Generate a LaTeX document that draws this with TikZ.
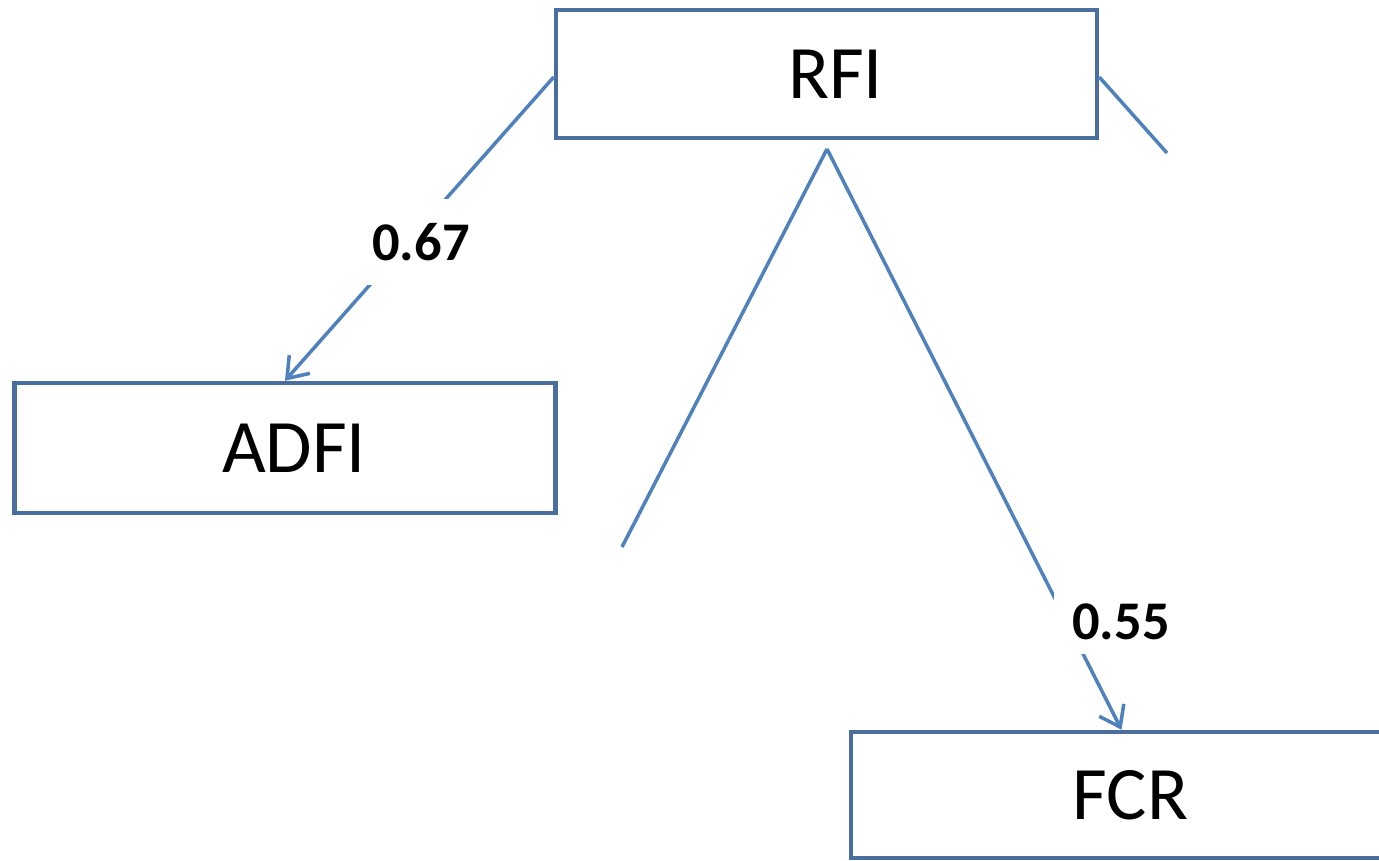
\documentclass[tikz,border=0pt]{standalone}
\usepackage{fontspec}
\setmainfont{Carlito}
\usetikzlibrary{arrows.meta}
\definecolor{boxblue}{RGB}{74,110,158}
\definecolor{lineblue}{RGB}{79,129,189}
\tikzset{
  trait/.style={shape=rectangle,draw=boxblue,line width=2.6pt,minimum width=10.82cm,minimum height=2.56cm,inner sep=0pt,font=\fontsize{43}{50}\selectfont,execute at begin node=\hspace*{0.36cm}},
  corr/.style={fill=white,inner sep=0pt,minimum width=2.7cm,font=\bfseries\fontsize{31}{36}\selectfont},
  link/.style={draw=lineblue,line width=2pt},
  arr/.style={link,-{Straight Barb[length=3.8mm,width=5.5mm]}}
}
\begin{document}
\begin{tikzpicture}[x=0.02cm,y=-0.02cm]
  \useasboundingbox (0,0) rectangle (1379,861);
  \clip (0,0) rectangle (1379,861);
  \node[trait] (RFI) at (826.5,74) {RFI};
  \node[trait,minimum height=2.6cm] (ADFI) at (285,448) {ADFI};
  \node[trait,minimum height=2.52cm] (FCR) at (1121.5,795) {FCR};
  \coordinate (top) at (827,149);
  \coordinate (cutL) at (622,547);
  \coordinate (cutR) at (1167,153);
  \draw[arr] ([yshift=-0.06cm]RFI.west) -- (ADFI.north);
  \draw[link] (top) -- (cutL);
  \draw[arr] (top) -- (FCR.north);
  \draw[link] ([yshift=-0.06cm]RFI.east) -- (cutR);
  \node[corr,minimum height=1.72cm] (r1) at (421,242) {0.67};
  \node[corr,minimum height=1.3cm] (r2) at (1121,622) {0.55};
\end{tikzpicture}
\end{document}
